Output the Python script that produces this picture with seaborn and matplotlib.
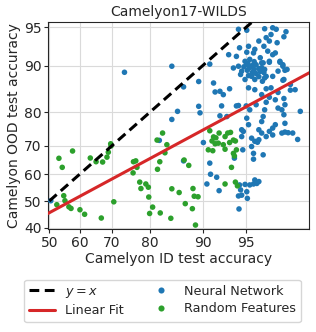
import numpy as np
import pandas as pd
import seaborn as sns
import matplotlib
matplotlib.use("Agg")
import matplotlib.pyplot as plt
from statistics import NormalDist

# Camelyon17-WILDS: ID vs OOD test accuracy (%), probit axes
nn_points = [
    (50.5, 50.1), (73.5, 88.85), (84.7, 89.9), (85.8, 80.2), (84.7, 78.0),
    (82.1, 71.7), (86.9, 64.8), (89.4, 81.5), (89.6, 79.8), (91.0, 90.25),
    (91.5, 86.8), (86.9, 86.0), (89.4, 87.1), (92.3, 85.05), (93.4, 85.6),
    (92.7, 84.3), (91.7, 84.9), (92.5, 81.6), (94.3, 81.7), (94.1, 81.6),
    (95.0, 81.6), (95.8, 81.9), (96.5, 82.5), (97.05, 83.1), (97.5, 83.4),
    (97.2, 84.8), (96.8, 85.8), (96.5, 85.6), (95.7, 85.4), (95.2, 85.8),
    (96.2, 84.3), (96.7, 83.7), (97.8, 85.3), (98.0, 85.4), (97.8, 86.5),
    (97.5, 87.5), (97.45, 87.35), (96.9, 88.1), (96.25, 87.15), (95.7, 87.5),
    (94.9, 87.5), (94.5, 88.45), (95.45, 88.1), (96.4, 87.8), (93.8, 89.6),
    (97.55, 89.2), (97.2, 89.05), (96.5, 88.1), (97.55, 81.9), (97.2, 81.05),
    (97.4, 80.6), (98.2, 80.2), (96.4, 80.6), (95.3, 80.6), (92.3, 79.0),
    (93.1, 78.8), (95.05, 78.35), (96.3, 78.8), (97.5, 79.3), (96.2, 77.4),
    (95.2, 76.5), (97.05, 76.5), (97.55, 76.9), (94.6, 75.0), (96.0, 75.0),
    (96.7, 74.5), (97.55, 74.3), (96.9, 75.5), (97.9, 74.0), (98.1, 72.0),
    (94.75, 74.5), (94.6, 72.9), (96.2, 74.0), (96.5, 72.9), (96.9, 73.4),
    (97.4, 74.0), (97.7, 74.1), (95.7, 71.4), (96.0, 71.9), (95.45, 72.4),
    (95.9, 71.1), (90.1, 71.0), (94.7, 68.6), (95.6, 67.4), (96.3, 66.9),
    (95.6, 65.4), (91.0, 64.0), (93.9, 65.75), (95.45, 69.7), (91.1, 60.0),
    (91.9, 58.9), (90.6, 56.4), (92.2, 53.9), (94.9, 56.25), (94.4, 56.05),
    (95.3, 56.05), (95.7, 57.9), (95.85, 56.6), (95.6, 56.4), (96.0, 57.3),
    (94.3, 51.9), (94.6, 52.2), (95.05, 53.5), (95.1, 51.0), (94.5, 54.2),
    (94.35, 47.0),
    (94.3, 94.8), (95.05, 94.7), (96.4, 94.85), (96.9, 94.95), (97.1, 94.8),
    (97.6, 94.55), (96.8, 94.25), (96.5, 93.9), (97.5, 94.0), (96.0, 93.5),
    (96.7, 93.5), (97.15, 93.3), (96.35, 92.85), (95.2, 92.85), (94.4, 92.65),
    (95.7, 92.45), (96.6, 92.2), (96.9, 91.7), (93.3, 91.7), (94.1, 91.45),
    (95.6, 91.95), (95.05, 92.05), (96.1, 91.25), (95.3, 91.0), (94.9, 90.7),
    (96.3, 90.45), (96.7, 90.7), (97.3, 90.55), (97.45, 90.15), (97.05, 91.95),
    (95.15, 90.35), (95.5, 90.0), (95.8, 90.15), (95.3, 89.65), (95.65, 89.35),
    (96.0, 89.5), (95.1, 89.2), (95.5, 88.8), (95.8, 88.6), (96.1, 89.0),
    (96.2, 89.65), (95.2, 88.25), (95.65, 90.65), (94.8, 89.8), (96.0, 88.05),
    (96.35, 88.8), (94.6, 89.05), (94.3, 89.9), (95.05, 90.15), (96.2, 90.45),
    (96.7, 90.55), (97.3, 90.7), (97.45, 89.9), (96.4, 89.35), (97.65, 89.35),
]

rf_points = [
    (52.5, 48.6), (53.2, 65.7), (54.3, 62.5), (54.8, 52.0), (55.2, 50.1),
    (56.5, 47.8), (57.2, 47.2), (57.7, 68.2), (60.1, 46.7), (61.6, 45.0),
    (63.4, 65.8), (65.2, 64.5), (66.8, 43.6), (67.2, 64.4), (68.5, 66.1),
    (68.9, 67.8), (69.6, 70.6), (69.7, 69.9), (70.5, 49.7), (75.9, 64.5),
    (76.5, 64.8), (76.8, 62.5), (75.8, 60.5), (77.5, 57.1), (77.8, 54.7),
    (79.0, 56.4), (79.6, 55.2), (79.7, 51.5), (79.9, 45.3), (80.6, 47.7),
    (81.6, 71.8), (82.8, 74.0), (83.7, 70.3), (83.3, 67.6), (82.2, 64.5),
    (81.7, 61.8), (82.3, 45.5), (84.5, 43.5), (84.7, 54.6), (86.1, 53.2),
    (87.0, 65.1), (87.8, 63.2), (88.5, 54.7), (88.7, 51.8), (89.3, 51.6),
    (87.2, 49.0), (88.4, 47.1), (88.9, 41.0), (91.0, 74.7), (91.5, 72.8),
    (91.8, 72.5), (91.3, 71.5), (92.2, 74.0), (92.9, 72.9), (93.2, 74.0),
    (93.5, 74.2), (93.8, 71.8), (94.0, 71.5), (93.4, 71.0), (92.7, 70.3),
    (92.9, 68.8), (90.8, 68.6), (91.4, 68.3), (94.1, 68.6), (93.8, 67.4),
    (93.9, 66.5), (93.6, 62.5), (92.9, 56.4), (94.0, 57.1), (94.2, 55.7),
    (91.7, 70.6), (92.1, 70.8),
]

# linear fit in probit space: probit(ood) = slope * probit(id) + intercept
fit_slope = 0.61
fit_intercept = -0.111

x_ticks = [50, 60, 70, 80, 90, 95]
y_ticks = [40, 50, 60, 70, 80, 90, 95]

nd = NormalDist()


def probit(v):
    v = np.clip(np.asarray(v, dtype=float) / 100.0, 1e-6, 1 - 1e-6)
    return np.vectorize(nd.inv_cdf, otypes=[float])(v)


def inv_probit(z):
    return np.vectorize(nd.cdf, otypes=[float])(np.asarray(z, dtype=float)) * 100.0


nn = pd.DataFrame(nn_points, columns=["id", "ood"])
nn["model"] = "Neural Network"
rf = pd.DataFrame(rf_points, columns=["id", "ood"])
rf["model"] = "Random Features"
df = pd.concat([nn, rf], ignore_index=True)

sns.set_style("ticks", {"axes.grid": True, "grid.color": "#dadada"})
plt.rcParams["font.family"] = ["DejaVu Sans"]

fig = plt.figure(figsize=(3.16, 3.32), dpi=100)
ax = fig.add_axes([0.151, 0.309, 0.827, 0.625])
ax.set_xscale("function", functions=(probit, inv_probit))
ax.set_yscale("function", functions=(probit, inv_probit))

ident = np.linspace(50, 99, 60)
sns.lineplot(x=ident, y=ident, ax=ax, color="black", lw=2.2,
             linestyle=(0, (3.2, 1.8)), label="$y = x$", zorder=4)
fit_x = np.linspace(49, 99, 200)
fit_y = inv_probit(fit_slope * probit(fit_x) + fit_intercept)
sns.lineplot(x=fit_x, y=fit_y, ax=ax, color="#d62728", lw=2.2,
             label="Linear Fit", zorder=4)

sns.scatterplot(data=df, x="id", y="ood", hue="model", ax=ax,
                palette={"Neural Network": "#1f77b4",
                         "Random Features": "#2ca02c"},
                s=16, edgecolor="none", zorder=3)

ax.set_xlim(49.47, 98.5)
ax.set_ylim(39.4, 95.5)
ax.set_xticks(x_ticks)
ax.set_xticklabels([str(t) for t in x_ticks])
ax.set_yticks(y_ticks)
ax.set_yticklabels([str(t) for t in y_ticks])
ax.minorticks_off()
ax.tick_params(labelsize=10, length=3, pad=1.5)
ax.set_xlabel("Camelyon ID test accuracy", fontsize=10, labelpad=2)
ax.set_ylabel("Camelyon OOD test accuracy", fontsize=10, labelpad=2)
ax.set_title("Camelyon17-WILDS", fontsize=10, pad=4)

handles, labels = ax.get_legend_handles_labels()
ax.get_legend().remove()
fig.legend(handles, labels, loc="lower center", bbox_to_anchor=(0.514, 0.01),
           ncol=2, fontsize=9.2, frameon=True, columnspacing=1.9,
           handlelength=2.0, handletextpad=0.8, borderpad=0.4,
           labelspacing=0.35, markerscale=1.1)

fig.savefig("out.png", dpi=100)
